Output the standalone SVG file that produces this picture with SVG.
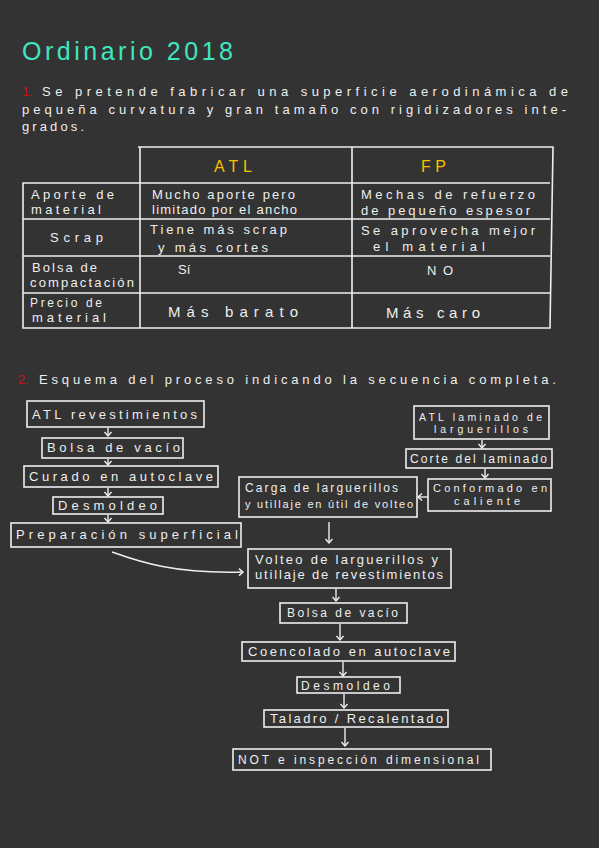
<svg xmlns="http://www.w3.org/2000/svg" width="599" height="848" viewBox="0 0 599 848">
<defs>
<style>
.bg{fill:#333333}
.t{font-family:"Liberation Sans","Open Sans",sans-serif;fill:#eeeeee}
.s13{font-size:13px}
.s12{font-size:12px}
.s11{font-size:11px}
.s10{font-size:10.5px}
.s15{font-size:15px}
.title{font-family:"Liberation Sans","Open Sans",sans-serif;font-size:25px;fill:#3fe6be}
.red{fill:#d01010}
.yel{font-family:"Liberation Sans","Open Sans",sans-serif;font-size:16px;fill:#f2c200}
.box{fill:none;stroke:#eeeeee;stroke-width:1.6}
.ln{stroke:#eeeeee;stroke-width:1.6;fill:none}
.arr{stroke:#eeeeee;stroke-width:1.4;fill:none;marker-end:url(#ah)}
</style>
<marker id="ah" markerUnits="userSpaceOnUse" markerWidth="12" markerHeight="12" viewBox="-6 -6 12 12" refX="0" refY="0" orient="auto">
<path d="M-4,-3.5 L0,0 L-4,3.5" fill="none" stroke="#eeeeee" stroke-width="1.4"/>
</marker>
</defs>
<rect class="bg" x="0" y="0" width="599" height="848"/>

<text class="title" x="22" y="60" textLength="211" lengthAdjust="spacing">Ordinario 2018</text>

<g id="enunciado1">
<text class="t s13 red" x="22" y="96">1.</text>
<text class="t s13" x="42" y="96" textLength="526" lengthAdjust="spacing">Se pretende fabricar una superficie  aerodinámica de</text>
<text class="t s13" x="22" y="114" textLength="544" lengthAdjust="spacing">pequeña curvatura y gran tamaño con rigidizadores inte-</text>
<text class="t s13" x="22" y="131" textLength="62" lengthAdjust="spacing">grados.</text>
</g>

<g id="tabla">
<path class="ln" d="M138,147 L553,147 L550,328 L23,328 L23,183 L550,183 M140,147 L140,328 M352,147 L352,328 M23,219 L550,219 M23,256 L550,256 M23,293 L550,293"/>
<text class="yel" x="214" y="172" textLength="38" lengthAdjust="spacing">ATL</text>
<text class="yel" x="421" y="172" textLength="25" lengthAdjust="spacing">FP</text>
<text class="t s13" x="31" y="199" textLength="83" lengthAdjust="spacing">Aporte de</text>
<text class="t s13" x="31" y="214" textLength="70" lengthAdjust="spacing">material</text>
<text class="t s13" x="152" y="199" textLength="143" lengthAdjust="spacing">Mucho aporte pero</text>
<text class="t s13" x="152" y="214" textLength="145" lengthAdjust="spacing">limitado por el ancho</text>
<text class="t s13" x="361" y="199" textLength="174" lengthAdjust="spacing">Mechas de refuerzo</text>
<text class="t s13" x="361" y="215" textLength="169" lengthAdjust="spacing">de pequeño espesor</text>
<text class="t s13" x="50" y="242" textLength="53" lengthAdjust="spacing">Scrap</text>
<text class="t s13" x="150" y="234" textLength="137" lengthAdjust="spacing">Tiene más scrap</text>
<text class="t s13" x="158" y="252" textLength="110" lengthAdjust="spacing">y más cortes</text>
<text class="t s13" x="361" y="235" textLength="174" lengthAdjust="spacing">Se aprovecha mejor</text>
<text class="t s13" x="373" y="251" textLength="112" lengthAdjust="spacing">el material</text>
<text class="t s13" x="32" y="272" textLength="65" lengthAdjust="spacing">Bolsa de</text>
<text class="t s13" x="30" y="287" textLength="104" lengthAdjust="spacing">compactación</text>
<text class="t s13" x="178" y="274">Sí</text>
<text class="t s13" x="427" y="275" textLength="26" lengthAdjust="spacing">NO</text>
<text class="t s12" x="30" y="307" textLength="72" lengthAdjust="spacing">Precio de</text>
<text class="t s13" x="32" y="322" textLength="74" lengthAdjust="spacing">material</text>
<text class="t s15" x="168" y="317" textLength="130" lengthAdjust="spacing">Más barato</text>
<text class="t s15" x="386" y="318" textLength="94" lengthAdjust="spacing">Más caro</text>
</g>

<g id="enunciado2">
<text class="t s13 red" x="18" y="384">2.</text>
<text class="t s13" x="39" y="384" textLength="517" lengthAdjust="spacing">Esquema del proceso indicando la secuencia completa.</text>
</g>

<g id="n-atl-rev">
<rect class="box" x="27" y="401" width="177" height="26"/>
<text class="t s13" x="32" y="419" textLength="165" lengthAdjust="spacing">ATL revestimientos</text>
</g>
<g id="n-bolsa1">
<rect class="box" x="42" y="438" width="141" height="20"/>
<text class="t s13" x="47" y="452" textLength="133" lengthAdjust="spacing">Bolsa de vacío</text>
</g>
<g id="n-curado">
<rect class="box" x="24" y="466" width="194" height="21"/>
<text class="t s13" x="29" y="481" textLength="184" lengthAdjust="spacing">Curado en autoclave</text>
</g>
<g id="n-desmoldeo1">
<rect class="box" x="53" y="497" width="110" height="17"/>
<text class="t s13" x="58" y="510" textLength="99" lengthAdjust="spacing">Desmoldeo</text>
</g>
<g id="n-prep">
<rect class="box" x="11" y="523" width="230" height="24"/>
<text class="t s13" x="16" y="539" textLength="222" lengthAdjust="spacing">Preparación superficial</text>
</g>

<g id="n-atl-lam">
<rect class="box" x="414" y="406" width="135" height="33"/>
<text class="t s10" x="419" y="421" textLength="123" lengthAdjust="spacing">ATL laminado de</text>
<text class="t s10" x="434" y="433" textLength="94" lengthAdjust="spacing">larguerillos</text>
</g>
<g id="n-corte">
<rect class="box" x="406" y="449" width="146" height="19"/>
<text class="t s12" x="410" y="463" textLength="137" lengthAdjust="spacing">Corte del laminado</text>
</g>
<g id="n-conformado">
<rect class="box" x="428" y="479" width="123" height="32"/>
<text class="t s11" x="433" y="492" textLength="114" lengthAdjust="spacing">Conformado en</text>
<text class="t s11" x="454" y="505" textLength="66" lengthAdjust="spacing">caliente</text>
</g>
<g id="n-carga">
<rect class="box" x="239" y="477" width="178" height="40"/>
<text class="t s12" x="245" y="492" textLength="153" lengthAdjust="spacing">Carga de larguerillos</text>
<text class="t s11" x="245" y="508" textLength="168" lengthAdjust="spacing">y utillaje en útil de volteo</text>
</g>
<g id="n-volteo">
<rect class="box" x="248" y="549" width="203" height="39"/>
<text class="t s13" x="255" y="564" textLength="183" lengthAdjust="spacing">Volteo de larguerillos y</text>
<text class="t s13" x="255" y="579" textLength="188" lengthAdjust="spacing">utillaje de revestimientos</text>
</g>
<g id="n-bolsa2">
<rect class="box" x="280" y="603" width="127" height="20"/>
<text class="t s12" x="287" y="617" textLength="111" lengthAdjust="spacing">Bolsa de vacío</text>
</g>
<g id="n-coencolado">
<rect class="box" x="242" y="642" width="213" height="19"/>
<text class="t s13" x="248" y="656" textLength="202" lengthAdjust="spacing">Coencolado en autoclave</text>
</g>
<g id="n-desmoldeo2">
<rect class="box" x="297" y="677" width="103" height="16"/>
<text class="t s12" x="301" y="690" textLength="89" lengthAdjust="spacing">Desmoldeo</text>
</g>
<g id="n-taladro">
<rect class="box" x="264" y="710" width="184" height="17"/>
<text class="t s13" x="270" y="723" textLength="173" lengthAdjust="spacing">Taladro / Recalentado</text>
</g>
<g id="n-ndt">
<rect class="box" x="233" y="749" width="258" height="21"/>
<text class="t s12" x="238" y="764" textLength="241" lengthAdjust="spacing">NOT e inspección dimensional</text>
</g>

<g id="conectores">
<path class="arr" d="M108,428 L108,436"/>
<path class="arr" d="M108,459 L108,465"/>
<path class="arr" d="M108,488 L108,496"/>
<path class="arr" d="M108,515 L108,522"/>
<path class="arr" d="M482,440 L482,448"/>
<path class="arr" d="M485,469 L485,478"/>
<path class="arr" d="M428,497 L418,497"/>
<path class="arr" d="M329,522 L329,543"/>
<path class="arr" d="M112,552 C140,562 175,574 243,572"/>
<path class="arr" d="M336,589 L336,601"/>
<path class="arr" d="M340,624 L340,640"/>
<path class="arr" d="M343,662 L343,676"/>
<path class="arr" d="M344,694 L344,708"/>
<path class="arr" d="M345,728 L345,746"/>
</g>
</svg>
